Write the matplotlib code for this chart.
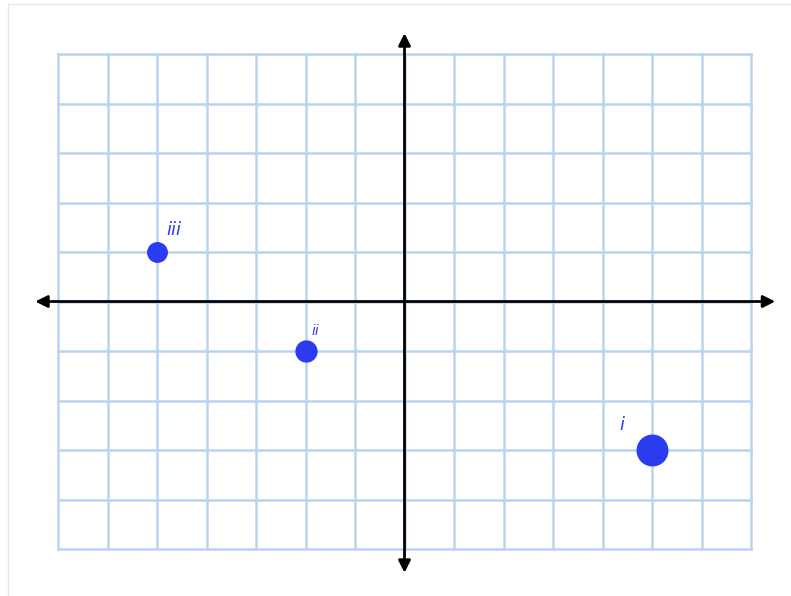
import matplotlib.pyplot as plt

# points plotted on the grid
labels = ['i', 'ii', 'iii']
xs = [5, -2, -5]
ys = [-3, -1, 1]
sizes = [22, 15, 14]
label_dx = [-0.6, 0.2, 0.35]
label_dy = [0.5, 0.4, 0.45]

grid_x = list(range(-7, 8))
grid_y = list(range(-5, 6))

fig = plt.figure(figsize=(7.91, 5.96), dpi=100)
ax = fig.add_axes([0, 0, 1, 1])
ax.set_xlim(-8.172, 7.808)
ax.set_ylim(-5.949, 6.091)
ax.axis('off')

grid_color = '#b9d3f1'
for gx in grid_x:
    ax.plot([gx, gx], [grid_y[0], grid_y[-1]], color=grid_color, lw=1.8, zorder=1)
for gy in grid_y:
    ax.plot([grid_x[0], grid_x[-1]], [gy, gy], color=grid_color, lw=1.8, zorder=1)

# axes with arrows at both ends
arrow = dict(arrowstyle='<|-|>', color='black', lw=2, mutation_scale=18, shrinkA=0, shrinkB=0)
ax.annotate('', xy=(7.49, 0), xytext=(-7.46, 0), arrowprops=arrow, zorder=3)
ax.annotate('', xy=(0, 5.42), xytext=(0, -5.48), arrowprops=arrow, zorder=3)

blue = '#2b3bef'
for lab, x, y, s, dx, dy in zip(labels, xs, ys, sizes, label_dx, label_dy):
    ax.plot(x, y, 'o', color=blue, markersize=s, zorder=4)
    ax.text(x + dx, y + dy, lab, color=blue, fontsize=13 if lab != 'ii' else 10,
            style='italic', ha='center', va='center', zorder=4)

# faint page border
ax.plot([-8.01, -8.01], [-5.95, 6.01], color='#e8e8e8', lw=1)
ax.plot([-8.01, 7.81], [6.01, 6.01], color='#e8e8e8', lw=1)

fig.savefig('out.png', dpi=100)
